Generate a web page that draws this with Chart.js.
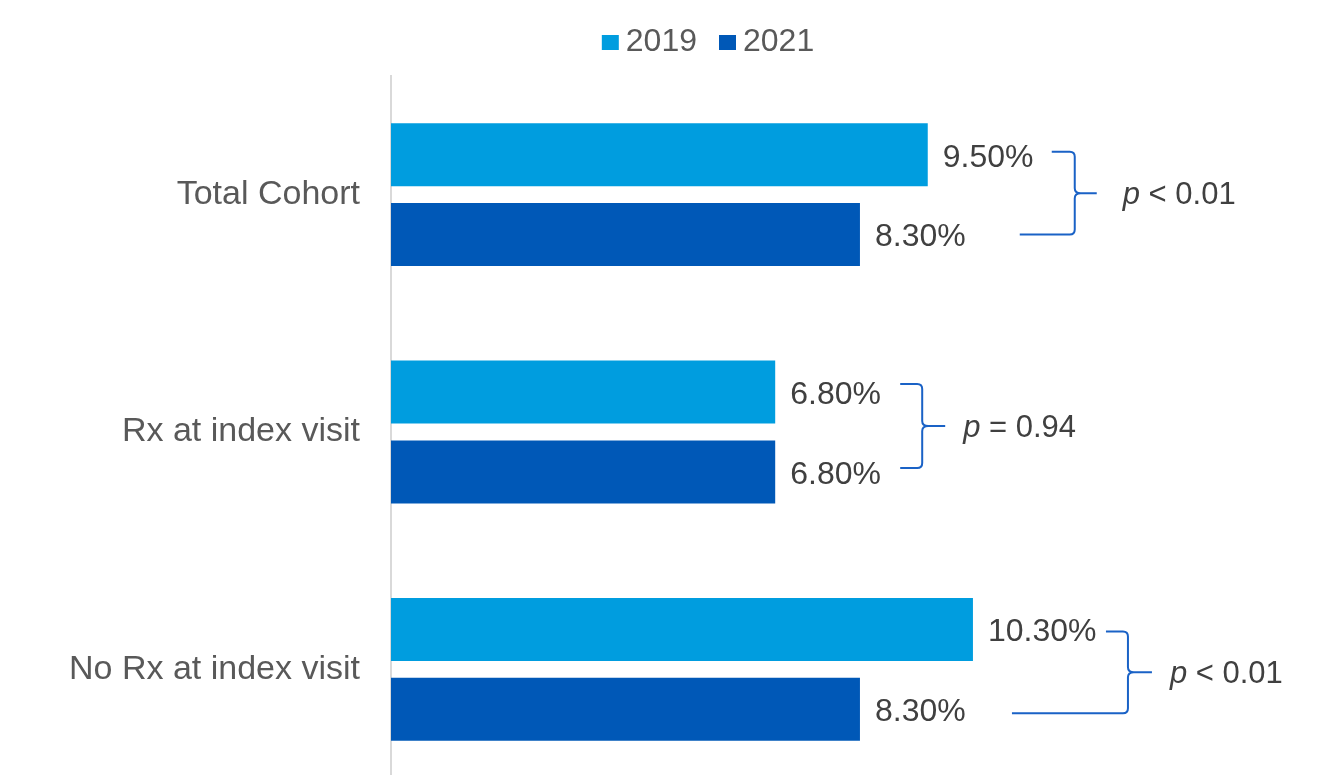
<!DOCTYPE html>
<html><head><meta charset="utf-8">
<script src="https://cdn.jsdelivr.net/npm/chart.js@4.4.1/dist/chart.umd.min.js"></script>
<style>html,body{margin:0;padding:0;overflow:hidden;background:#fff}#wrap{width:1328px;height:800px}</style>
</head><body><div id="wrap"><canvas id="c" width="1328" height="800"></canvas></div>
<script>
// ---- data ----
const categories = ['Total Cohort', 'Rx at index visit', 'No Rx at index visit'];
const seriesLabels = ['2019', '2021'];
const values2019 = [9.5, 6.8, 10.3];
const values2021 = [8.3, 6.8, 8.3];
const pOperators = ['<', '=', '<'];
const pValues = ['0.01', '0.94', '0.01'];

// ---- styles / layout ----
const colors = ['#009DDF', '#0058B7'];
const FONT = '"Liberation Sans", Arial, sans-serif';
const bracketColor = '#1A62C6';
const bracketLayout = [
  { dx: 147, topArm: 23, botArm: 55, dyTop: -3, dyBot: 0, tip: 22, textDx: 48 },
  { dx: 147, topArm: 22, botArm: 22, dyTop: -8, dyBot: -4, tip: 23, textDx: 41 },
  { dx: 155, topArm: 22, botArm: 116, dyTop: 2, dyBot: 4, tip: 24, textDx: 42 }
];

const valueLabels = {
  id: 'valueLabels',
  afterDatasetsDraw(chart) {
    const ctx = chart.ctx;
    ctx.save();
    ctx.font = '32px ' + FONT;
    ctx.fillStyle = '#404040';
    ctx.textAlign = 'left';
    ctx.textBaseline = 'middle';
    chart.data.datasets.forEach((ds, di) => {
      const meta = chart.getDatasetMeta(di);
      meta.data.forEach((bar, i) => {
        ctx.fillText(ds.data[i].toFixed(2) + '%', bar.x + 15, bar.y + 3);
      });
    });
    ctx.restore();
  }
};

const brackets = {
  id: 'brackets',
  afterDatasetsDraw(chart) {
    const ctx = chart.ctx;
    const m0 = chart.getDatasetMeta(0), m1 = chart.getDatasetMeta(1);
    categories.forEach((c, i) => {
      const b0 = m0.data[i], b1 = m1.data[i];
      const L = bracketLayout[i];
      const bx = Math.max(b0.x, b1.x) + L.dx;
      const top = b0.y + L.dyTop, bot = b1.y + L.dyBot, mid = (top + bot) / 2;
      ctx.save();
      ctx.strokeStyle = bracketColor;
      ctx.lineWidth = 2;
      ctx.beginPath();
      ctx.moveTo(bx - L.topArm, top);
      ctx.lineTo(bx - 5, top);
      ctx.quadraticCurveTo(bx, top, bx, top + 5);
      ctx.lineTo(bx, mid - 5);
      ctx.quadraticCurveTo(bx, mid, bx + 6, mid);
      ctx.lineTo(bx + L.tip, mid);
      ctx.moveTo(bx + 6, mid);
      ctx.quadraticCurveTo(bx, mid, bx, mid + 5);
      ctx.lineTo(bx, bot - 5);
      ctx.quadraticCurveTo(bx, bot, bx - 5, bot);
      ctx.lineTo(bx - L.botArm, bot);
      ctx.stroke();
      // p text
      ctx.fillStyle = '#404040';
      ctx.textBaseline = 'middle';
      ctx.textAlign = 'left';
      const tx = bx + L.textDx;
      ctx.font = 'italic 31px ' + FONT;
      ctx.fillText('p', tx, mid + 2);
      const pw = ctx.measureText('p').width;
      ctx.font = '31px ' + FONT;
      ctx.fillText(' ' + pOperators[i] + ' ' + pValues[i], tx + pw, mid + 2);
      ctx.restore();
    });
  }
};

const customLegend = {
  id: 'customLegend',
  afterDraw(chart) {
    const ctx = chart.ctx;
    ctx.save();
    ctx.font = '32px ' + FONT;
    ctx.textBaseline = 'middle';
    ctx.textAlign = 'left';
    const box = 17, gap = 7, spacing = 22;
    const items = chart.data.datasets.map(d => ({ label: d.label, color: d.backgroundColor }));
    let total = 0;
    items.forEach((it, k) => {
      it.w = box + gap + ctx.measureText(it.label).width;
      total += it.w + (k ? spacing : 0);
    });
    let x = 708 - total / 2;
    const cy = 42;
    items.forEach(it => {
      ctx.fillStyle = it.color;
      ctx.fillRect(x, cy - 7, box, 15);
      ctx.fillStyle = '#595959';
      ctx.fillText(it.label, x + box + gap, cy);
      x += it.w + spacing;
    });
    ctx.restore();
  }
};

new Chart(document.getElementById('c'), {
  type: 'bar',
  data: {
    labels: categories,
    datasets: [
      { label: seriesLabels[0], data: values2019, backgroundColor: colors[0] },
      { label: seriesLabels[1], data: values2021, backgroundColor: colors[1] }
    ]
  },
  options: {
    indexAxis: 'y',
    responsive: false,
    animation: false,
    categoryPercentage: 0.6725,
    barPercentage: 0.79,
    layout: { padding: { top: 76, bottom: 12, left: 0, right: 33 } },
    plugins: { legend: { display: false }, tooltip: { enabled: false } },
    scales: {
      x: { display: false, min: 0, max: 16 },
      y: {
        afterFit(scale) { scale.width = 391; scale.paddingTop = 0; scale.paddingBottom = 0; },
        grid: { display: false, drawTicks: false },
        border: { display: true, color: '#D9D9D9', width: 2 },
        ticks: { padding: 31, color: '#595959', font: { family: FONT, size: 34 } }
      }
    }
  },
  plugins: [valueLabels, brackets, customLegend]
});
</script>
</body></html>
